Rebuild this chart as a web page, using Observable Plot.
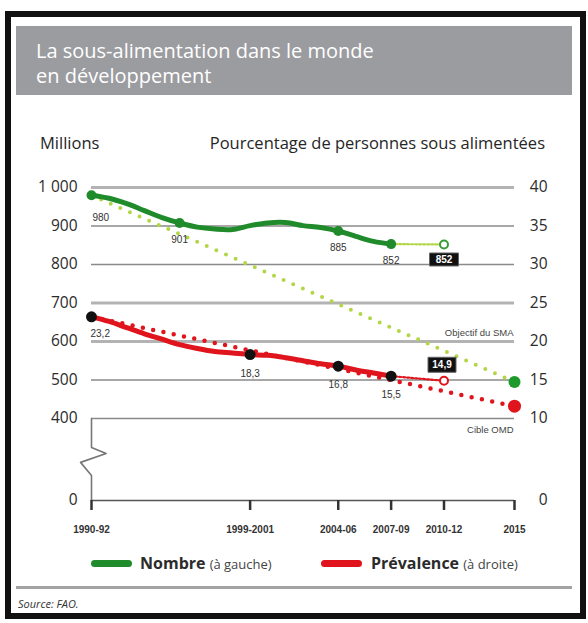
<!DOCTYPE html>
<html><head><meta charset="utf-8">
<script src="https://cdn.jsdelivr.net/npm/d3@7"></script>
<script src="https://cdn.jsdelivr.net/npm/@observablehq/plot@0.6"></script>
<style>
html,body{margin:0;padding:0;background:#fff;width:588px;height:623px;overflow:hidden;}
body{position:relative;font-family:"Open Sans","Noto Sans",sans-serif;color:#2b2b2b;}
#frame{position:absolute;left:5px;top:11px;width:581px;height:608px;border:6px solid #111;box-sizing:border-box;}
#titlebox{position:absolute;left:16px;top:26px;width:556px;height:69px;background:#9b9ca0;}
#title{position:absolute;left:20px;top:12px;color:#fff;font-size:20px;line-height:25px;}
.hdr{position:absolute;top:132px;font-size:16.5px;line-height:22px;color:#262626;}
#chart{position:absolute;left:0;top:130px;}
.leg{position:absolute;top:552px;height:22px;line-height:22px;white-space:nowrap;}
.bar{position:absolute;top:560px;width:41px;height:7px;border-radius:4px;}
.legb{font-size:16px;font-weight:700;color:#2b2b2b;}
.legs{font-size:13px;color:#444;}
#sep{position:absolute;left:16px;top:586px;width:556px;height:3px;background:#a3a3a3;}
#source{position:absolute;left:18px;top:596px;font-size:11px;font-style:italic;line-height:16px;color:#333;}
</style></head><body>
<div id="frame"></div>
<div id="titlebox"><div id="title">La sous-alimentation dans le monde<br>en développement</div></div>
<div class="hdr" style="left:40px;">Millions</div>
<div class="hdr" style="right:43px;">Pourcentage de personnes sous alimentées</div>
<div id="chart"></div>
<div class="bar" style="left:91px;background:#1f8b2a;"></div>
<div class="leg" style="left:140px;"><span class="legb">Nombre</span> <span class="legs">(à gauche)</span></div>
<div class="bar" style="left:321px;background:#e0141c;"></div>
<div class="leg" style="left:371px;"><span class="legb">Prévalence</span> <span class="legs">(à droite)</span></div>
<div id="sep"></div>
<div id="source">Source: FAO.</div>
<script>
// ---- data ----
const years      = [1991,1992,1993,1994,1995,1996,1997,1998,1999,2000,2001,2002,2003,2004,2005,2006,2007,2008];
const nombre     = [980, 972, 958, 940, 922, 908, 897, 892, 891, 901, 908, 909, 901, 896, 887, 873, 860, 853];
const prevalence = [23.2,22.6,21.8,21.0,20.3,19.6,19.1,18.7,18.5,18.3,18.2,17.9,17.5,17.1,16.8,16.3,15.9,15.5];

const nombreMarkYears  = [1991, 1996, 2005, 2008];
const nombreMarkLabels = ["980", "901", "885", "852"];
const prevMarkYears    = [1991, 2000, 2005, 2008];
const prevMarkLabels   = ["23,2", "18,3", "16,8", "15,5"];

const projYear = 2011;
const projNombre = 852, projNombreLabel = "852";
const projPrev = 14.9,  projPrevLabel = "14,9";

const targetYear = 2015;
const wfsTarget = 495;      // Objectif du SMA (millions)
const mdgTarget = 11.6;     // Cible OMD (%)

const xTicks      = [1991, 2000, 2005, 2008, 2011, 2015];
const xTickLabels = ["1990-92", "1999-2001", "2004-06", "2007-09", "2010-12", "2015"];
const leftTicks       = [0, 400, 500, 600, 700, 800, 900, 1000];
const leftTickLabels  = ["0", "400", "500", "600", "700", "800", "900", "1 000"];
const rightTickLabels = ["0", "10", "15", "20", "25", "30", "35", "40"];

const breakX = [1991, 1991, 1991.83, 1990.38, 1991, 1991];
const breakY = [400, 259, 229, 186, 122, 0];

// percent (right axis) -> millions (left axis) : 10% = 400, 40% = 1000
const toLeft = p => p * 20 + 200;

// ---- tables ----
const numRows  = years.map((y, i) => ({year: y, v: nombre[i]}));
const prevRows = years.map((y, i) => ({year: y, p: prevalence[i]}));
const numMarks = nombreMarkYears.map((y, i) => ({year: y, v: nombre[years.indexOf(y)], label: nombreMarkLabels[i]}));
const prevMarks = prevMarkYears.map((y, i) => ({year: y, p: prevalence[years.indexOf(y)], label: prevMarkLabels[i]}));
const last = years.length - 1;
const numProj  = [{year: years[last], v: nombre[last]}, {year: projYear, v: projNombre}];
const prevProj = [{year: years[last], p: prevalence[last]}, {year: projYear, p: projPrev}];
const wfsLine  = [{year: years[0], v: nombre[0]}, {year: targetYear, v: wfsTarget}];
const mdgLine  = [{year: years[0], p: prevalence[0]}, {year: targetYear, p: mdgTarget}];
const breakRows = breakX.map((x, i) => ({x, y: breakY[i]}));
const thickGrid = [1000, 700, 600];
const thinGrid  = [900, 800, 500, 400];

const boxSym = (w, h) => ({draw(ctx) { ctx.rect(-w / 2, -h / 2, w, h); }});
const lblFont = "'Liberation Sans', Arial, sans-serif";

const GREEN = "#1f8b2a", LGREEN = "#b3d646", RED = "#e0141c";

const chart = Plot.plot({
  width: 588, height: 420,
  marginLeft: 91, marginRight: 74, marginTop: 57, marginBottom: 50,
  style: {fontFamily: "'Open Sans', sans-serif", background: "transparent", overflow: "visible"},
  x: {type: "linear", domain: [1991, 2015], range: [91, 514], label: null},
  y: {type: "linear", domain: [0, 400, 1000], range: [370, 288, 57], label: null},
  marks: [
    Plot.ruleY(thickGrid, {x1: 1991, x2: 2015, stroke: "#b3b3b3", strokeWidth: 3}),
    Plot.ruleY(thinGrid, {x1: 1991, x2: 2015, stroke: "#8a8a8a", strokeWidth: 1.6}),
    Plot.line(breakRows, {x: "x", y: "y", stroke: "#777", strokeWidth: 1.6}),
    Plot.ruleY([0], {x1: 1991, x2: 2015, stroke: "#555", strokeWidth: 1.6}),
    Plot.axisX({ticks: xTicks, tickFormat: d => xTickLabels[xTicks.indexOf(d)], tickSize: 10, tickPadding: 15,
      fontSize: 10, fontWeight: "bold", fontFamily: lblFont, stroke: "#333", strokeWidth: 2.5, fill: "#333", label: null}),
    Plot.axisY({ticks: leftTicks, tickFormat: d => leftTickLabels[leftTicks.indexOf(d)], anchor: "left",
      tickSize: 0, tickPadding: 14, fontSize: 15.5, fill: "#2b2b2b", label: null}),
    Plot.axisY({ticks: leftTicks, tickFormat: d => rightTickLabels[leftTicks.indexOf(d)], anchor: "right",
      tickSize: 0, tickPadding: 33, textAnchor: "end", fontSize: 15.5, fill: "#2b2b2b", label: null}),
    // targets
    Plot.line(wfsLine, {x: "year", y: "v", stroke: LGREEN, strokeWidth: 4, strokeDasharray: "0,10.5", strokeLinecap: "round"}),
    Plot.line(mdgLine, {x: "year", y: d => toLeft(d.p), stroke: RED, strokeWidth: 4.5, strokeDasharray: "0,10.5", strokeLinecap: "round"}),
    Plot.text([{x: 2015, y: 600}], {x: "x", y: "y", text: ["Objectif du SMA"], textAnchor: "end", dx: -1, dy: -9, fontSize: 9.5, fill: "#444", fontFamily: lblFont}),
    Plot.text([{x: 2015, y: 400}], {x: "x", y: "y", text: ["Cible OMD"], textAnchor: "end", dx: -1, dy: 11, fontSize: 9.5, fill: "#444", fontFamily: lblFont}),
    // projections
    Plot.line(numProj, {x: "year", y: "v", stroke: LGREEN, strokeWidth: 2.2, strokeDasharray: "2,2"}),
    Plot.line(prevProj, {x: "year", y: d => toLeft(d.p), stroke: RED, strokeWidth: 2.2, strokeDasharray: "2,2"}),
    // series
    Plot.line(numRows, {x: "year", y: "v", stroke: GREEN, strokeWidth: 5, curve: "catmull-rom"}),
    Plot.line(prevRows, {x: "year", y: d => toLeft(d.p), stroke: RED, strokeWidth: 5, curve: "catmull-rom"}),
    // points
    Plot.dot(numMarks, {x: "year", y: "v", r: 5, fill: GREEN}),
    Plot.dot(prevMarks, {x: "year", y: d => toLeft(d.p), r: 5.5, fill: "#111"}),
    Plot.dot([{year: projYear, v: projNombre}], {x: "year", y: "v", r: 4, fill: "#fff", stroke: "#3b9c34", strokeWidth: 2}),
    Plot.dot([{year: projYear, p: projPrev}], {x: "year", y: d => toLeft(d.p), r: 4, fill: "#fff", stroke: RED, strokeWidth: 2}),
    Plot.dot([{year: targetYear, v: wfsTarget}], {x: "year", y: "v", r: 6, fill: "#1d9a2c"}),
    Plot.dot([{year: targetYear, p: mdgTarget}], {x: "year", y: d => toLeft(d.p), r: 6.5, fill: RED}),
    // value labels
    Plot.text(numMarks.slice(0, 1), {x: "year", y: "v", text: "label", textAnchor: "start", dx: 1, dy: 23, fontSize: 10, fill: "#333", fontFamily: lblFont}),
    Plot.text(numMarks.slice(1), {x: "year", y: "v", text: "label", dy: 17, fontSize: 10, fill: "#333", fontFamily: lblFont}),
    Plot.text(prevMarks.slice(0, 1), {x: "year", y: d => toLeft(d.p), text: "label", textAnchor: "start", dx: -1, dy: 17, fontSize: 10, fill: "#333", fontFamily: lblFont}),
    Plot.text(prevMarks.slice(1), {x: "year", y: d => toLeft(d.p), text: "label", dy: 19, fontSize: 10, fill: "#333", fontFamily: lblFont}),
    // projection boxes
    Plot.dot([{year: projYear, v: projNombre}], {x: "year", y: "v", dy: 15, symbol: boxSym(29, 13), r: 5, fill: "#111", stroke: "#666", strokeWidth: 1}),
    Plot.text([{year: projYear, v: projNombre}], {x: "year", y: "v", dy: 15, text: [projNombreLabel], fontSize: 10, fontWeight: "bold", fill: "#fff", fontFamily: lblFont}),
    Plot.dot([{year: projYear, p: projPrev}], {x: "year", y: d => toLeft(d.p), dx: -2, dy: -16, symbol: boxSym(28, 15), r: 5, fill: "#111", stroke: "#666", strokeWidth: 1}),
    Plot.text([{year: projYear, p: projPrev}], {x: "year", y: d => toLeft(d.p), dx: -2, dy: -16, text: [projPrevLabel], fontSize: 10, fontWeight: "bold", fill: "#fff", fontFamily: lblFont})
  ]
});
document.getElementById("chart").appendChild(chart);
</script>
</body></html>
